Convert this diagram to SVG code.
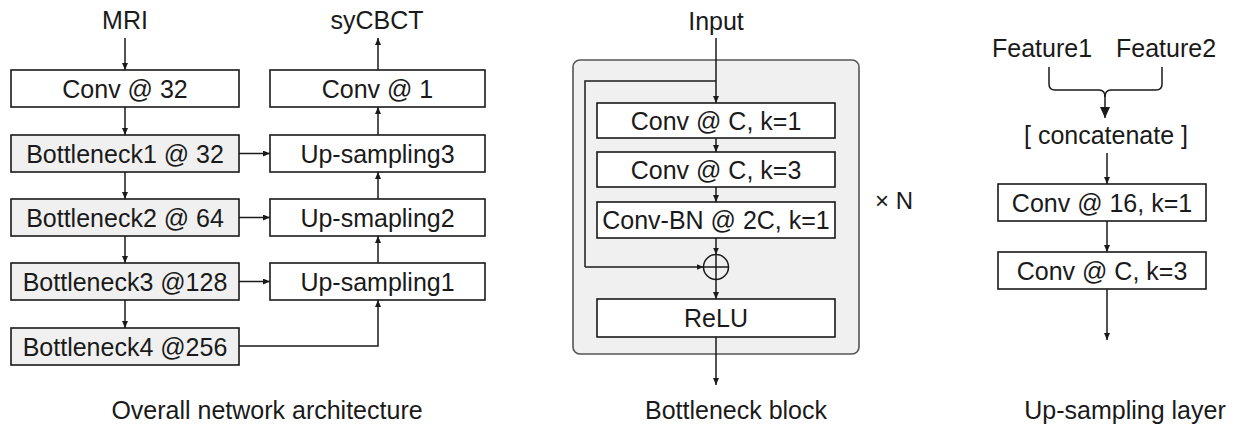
<svg xmlns="http://www.w3.org/2000/svg" width="1243" height="427" viewBox="0 0 1243 427">
<defs>
<marker id="ah" markerUnits="userSpaceOnUse" markerWidth="7" markerHeight="6" refX="7" refY="3" orient="auto"><path d="M0,0 L7,3 L0,6 z" fill="#1a1a1a"/></marker>
<marker id="ahb" markerUnits="userSpaceOnUse" markerWidth="11" markerHeight="10" refX="11" refY="5" orient="auto"><path d="M0,0 L11,5 L0,10 z" fill="#1a1a1a"/></marker>
<style>
text{font-family:"Liberation Sans",Arial,sans-serif;font-size:25px;fill:#1a1a1a;text-anchor:middle}
.box{fill:#fff;stroke:#1a1a1a;stroke-width:1.6}
.gbox{fill:#f0f0f0;stroke:#1a1a1a;stroke-width:1.6}
.ln{fill:none;stroke:#1a1a1a;stroke-width:1.5}
.ar{fill:none;stroke:#1a1a1a;stroke-width:1.5;marker-end:url(#ah)}
</style>
</defs>
<rect width="1243" height="427" fill="#fff"/>

<g id="panel"><rect x="573" y="60" width="286" height="294" rx="7" fill="#f0f0f0" stroke="#555" stroke-width="1.6"/></g>

<g id="labels">
<text x="125" y="29">MRI</text>
<text x="377" y="29">syCBCT</text>
<text x="716" y="30">Input</text>
<text x="1042" y="57">Feature1</text>
<text x="1166" y="57">Feature2</text>
<text x="1106" y="144">[ concatenate ]</text>
<text x="875" y="209" style="text-anchor:start;font-size:24px">× N</text>
<text x="267" y="419">Overall network architecture</text>
<text x="736" y="419">Bottleneck block</text>
<text x="1125" y="419">Up-sampling layer</text>
</g>

<g id="conv32"><rect class="box" x="11" y="70" width="228" height="37"/><text x="125" y="97.5">Conv @ 32</text></g>
<g id="bn1"><rect class="gbox" x="11" y="135" width="228" height="37"/><text x="125" y="162.5">Bottleneck1 @ 32</text></g>
<g id="bn2"><rect class="gbox" x="11" y="199" width="228" height="37"/><text x="125" y="226.5">Bottleneck2 @ 64</text></g>
<g id="bn3"><rect class="gbox" x="11" y="263" width="228" height="37"/><text x="125" y="290.5">Bottleneck3 @128</text></g>
<g id="bn4"><rect class="gbox" x="11" y="328" width="228" height="37"/><text x="125" y="355.5">Bottleneck4 @256</text></g>
<g id="conv1"><rect class="box" x="270" y="70" width="215" height="37"/><text x="377.5" y="97.5">Conv @ 1</text></g>
<g id="up3"><rect class="box" x="270" y="135" width="215" height="37"/><text x="377.5" y="162.5">Up-sampling3</text></g>
<g id="up2"><rect class="box" x="270" y="199" width="215" height="37"/><text x="377.5" y="226.5">Up-smapling2</text></g>
<g id="up1"><rect class="box" x="270" y="263" width="215" height="37"/><text x="377.5" y="290.5">Up-sampling1</text></g>

<g id="bconv1"><rect class="box" x="597" y="103" width="238" height="35"/><text x="716" y="129.5">Conv @ C, k=1</text></g>
<g id="bconv3"><rect class="box" x="597" y="152" width="238" height="35"/><text x="716" y="178.5">Conv @ C, k=3</text></g>
<g id="bconvbn"><rect class="box" x="597" y="202" width="238" height="36"/><text x="716" y="228.5">Conv-BN @ 2C, k=1</text></g>
<g id="add"><circle cx="716" cy="267" r="12.5" fill="none" stroke="#1a1a1a" stroke-width="1.5"/><path class="ln" d="M703.5,267 H728.5 M716,254.5 V279.5"/></g>
<g id="relu"><rect class="box" x="597" y="299" width="238" height="38"/><text x="716" y="326.5">ReLU</text></g>

<g id="uconv16"><rect class="box" x="998" y="184" width="208" height="37"/><text x="1102" y="211.5">Conv @ 16, k=1</text></g>
<g id="uconvc"><rect class="box" x="998" y="252" width="208" height="37"/><text x="1102" y="279.5">Conv @ C, k=3</text></g>

<g id="connectors">
<path class="ar" d="M125,38 V70"/>
<path class="ar" d="M125,107 V135"/>
<path class="ar" d="M125,172 V199"/>
<path class="ar" d="M125,236 V263"/>
<path class="ar" d="M125,300 V328"/>
<path class="ar" d="M239,153.5 H270"/>
<path class="ar" d="M239,217.5 H270"/>
<path class="ar" d="M239,281.5 H270"/>
<path class="ar" d="M239,346 H378 V300"/>
<path class="ar" d="M378,263 V236"/>
<path class="ar" d="M378,199 V172"/>
<path class="ar" d="M378,135 V107"/>
<path class="ar" d="M378,70 V38"/>

<path class="ar" d="M716,38 V103"/>
<path class="ln" d="M716,81 H585 V267"/>
<path class="ar" d="M585,267 H703.5"/>
<path class="ar" d="M716,138 V152"/>
<path class="ar" d="M716,187 V202"/>
<path class="ar" d="M716,238 V254.5"/>
<path class="ar" d="M716,279.5 V299"/>
<path class="ar" d="M716,337 V385"/>

<path class="ln" d="M1049,67 V84 Q1049,90 1055,90 H1099 Q1105,90 1105,97"/>
<path class="ln" d="M1162,67 V84 Q1162,90 1156,90 H1111 Q1105,90 1105,97"/>
<path class="ln" d="M1105,97 V118" style="marker-end:url(#ahb)"/>
<path class="ar" d="M1107,153 V184"/>
<path class="ar" d="M1107,221 V252"/>
<path class="ar" d="M1107,289 V340"/>
</g>
</svg>
